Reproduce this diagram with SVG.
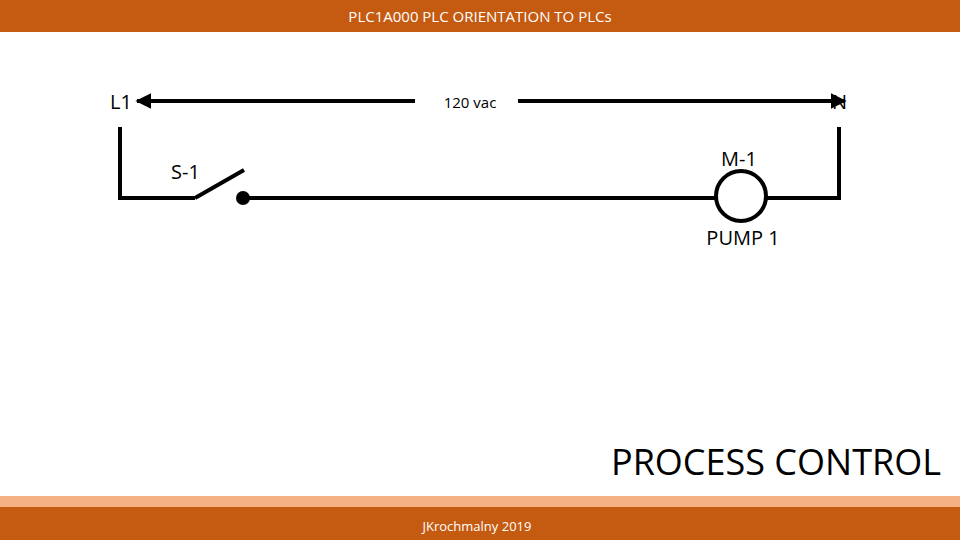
<svg xmlns="http://www.w3.org/2000/svg" width="960" height="540" viewBox="0 0 960 540">
<style>
.w{stroke:#000;stroke-width:4;fill:none}
.t{font-family:"Open Sans","Liberation Sans",sans-serif;fill:#000}
</style>
<defs><marker id="ah" viewBox="0 0 10 10" refX="9" refY="5" markerWidth="4" markerHeight="4" orient="auto-start-reverse" markerUnits="strokeWidth"><path d="M0,0 L10,5 L0,10 z" fill="#000"/></marker></defs>
<rect x="0" y="0" width="960" height="32" fill="#c55a11"/>
<text x="480" y="22" text-anchor="middle" class="t" font-size="15" fill="#fff" style="fill:#fff">PLC1A000 PLC ORIENTATION TO PLCs</text>
<rect x="0" y="496" width="960" height="11" fill="#f4b183"/>
<rect x="0" y="507" width="960" height="33" fill="#c55a11"/>
<text x="477" y="531" text-anchor="middle" class="t" font-size="13" style="fill:#fff">JKrochmalny 2019</text>
<g id="connectors">
<line class="w" x1="415" y1="101" x2="137" y2="101" marker-end="url(#ah)"/>
<line class="w" x1="518" y1="101" x2="845" y2="101" marker-end="url(#ah)"/>
<polyline class="w" points="120,127 120,198 195,198"/>
<line class="w" x1="243" y1="198" x2="715" y2="198"/>
<polyline class="w" points="767,198 839,198 839,127"/>
</g>
<g id="L1"><text x="110" y="109" class="t" font-size="20">L1</text></g>
<g id="N"><text x="832" y="109" class="t" font-size="20">N</text></g>
<text x="470" y="108" text-anchor="middle" class="t" font-size="15">120 vac</text>
<g id="S1">
<line class="w" x1="195" y1="198" x2="244" y2="170"/>
<circle cx="243" cy="198" r="7" fill="#000"/>
<text x="171" y="179" class="t" font-size="20">S-1</text>
</g>
<g id="M1">
<circle class="w" cx="741" cy="196" r="25"/>
<text x="739" y="166" text-anchor="middle" class="t" font-size="20">M-1</text>
<text x="743" y="245" text-anchor="middle" class="t" font-size="20">PUMP 1</text>
</g>
<text x="941" y="475" text-anchor="end" class="t" font-size="36">PROCESS CONTROL</text>
</svg>
